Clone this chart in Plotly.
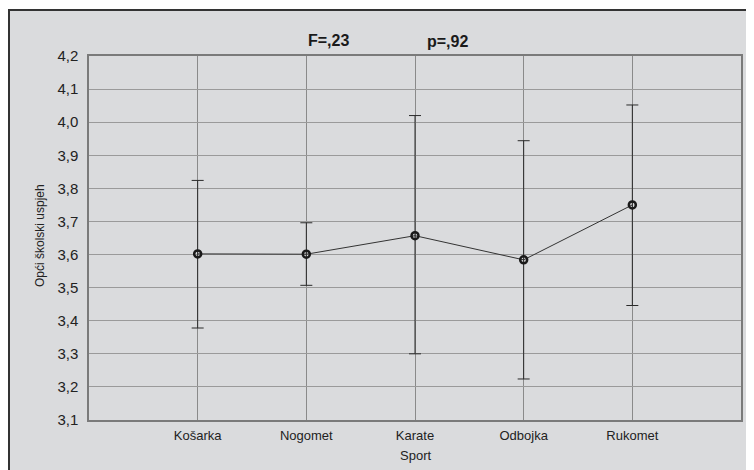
import plotly.graph_objects as go

sports = ["Košarka", "Nogomet", "Karate", "Odbojka", "Rukomet"]
means = [3.602, 3.601, 3.657, 3.584, 3.750]
upper = [3.824, 3.696, 4.020, 3.944, 4.052]
lower = [3.378, 3.507, 3.300, 3.224, 3.446]
y_ticks = [3.1, 3.2, 3.3, 3.4, 3.5, 3.6, 3.7, 3.8, 3.9, 4.0, 4.1, 4.2]

err_plus = [u - m for u, m in zip(upper, means)]
err_minus = [m - l for m, l in zip(means, lower)]

FONT = "Liberation Sans, Arial, sans-serif"
OFF = 8  # page body margin
W, H = 754 - OFF, 470 - OFF
L, R, T, B = 89 - OFF, 13, 56 - OFF, 50
pw, ph = W - L - R, H - T - B

def px(x):
    return (x - OFF - L) / pw

def py(y):
    return (H - B - (y - OFF)) / ph

fig = go.Figure()
fig.add_trace(go.Scatter(
    x=sports, y=means, mode="lines+markers",
    line=dict(color="#333333", width=1),
    marker=dict(symbol="circle-open", size=7, color="#1a1a1a", line=dict(width=2.5, color="#1a1a1a")),
    error_y=dict(type="data", symmetric=False, array=err_plus, arrayminus=err_minus,
                 color="#2a2a2a", thickness=1, width=6),
    showlegend=False, cliponaxis=False,
))

fig.update_layout(
    width=W, height=H,
    margin=dict(l=L, r=R, t=T, b=B),
    paper_bgcolor="white", plot_bgcolor="white",
    separators=",.",
    font=dict(family=FONT, color="#222222"),
    shapes=[dict(type="rect", xref="paper", yref="paper", layer="below",
                 x0=px(9), x1=px(780), y0=py(490), y1=py(10),
                 fillcolor="#dadbdd", line=dict(color="#333333", width=2))],
    annotations=[
        dict(text="<b>F=,23</b>", x=px(328), y=py(30), xref="paper", yref="paper",
             xanchor="center", showarrow=False, font=dict(size=16, family=FONT, color="#1a1a1a")),
        dict(text="<b>p=,92</b>", x=px(447), y=py(31), xref="paper", yref="paper",
             xanchor="center", showarrow=False, font=dict(size=16, family=FONT, color="#1a1a1a")),
        dict(text="Opći školski uspjeh", x=px(40), y=py(236), xref="paper", yref="paper",
             xanchor="center", yanchor="middle",
             showarrow=False, textangle=-90, font=dict(size=12, family=FONT, color="#222222")),
        dict(text="Sport", x=px(415), y=py(446), xref="paper", yref="paper",
             xanchor="center", yanchor="top", showarrow=False,
             font=dict(size=13, family=FONT, color="#222222")),
    ],
)
fig.update_xaxes(
    type="category", range=[-1, 5],
    showgrid=True, gridcolor="#8a8a8a", gridwidth=1,
    showline=True, mirror=True, linecolor="#7a7a7a", linewidth=1.5,
    ticks="", tickfont=dict(size=13, family=FONT, color="#222222"),
    ticklabelstandoff=3, zeroline=False, fixedrange=True,
)
fig.update_yaxes(
    range=[3.1, 4.2], tickvals=y_ticks, tickformat=".1f",
    showgrid=True, gridcolor="#9a9a9a", gridwidth=1,
    showline=True, mirror=True, linecolor="#7a7a7a", linewidth=1.5,
    ticks="", tickfont=dict(size=15, family=FONT, color="#222222"),
    ticklabelstandoff=6, zeroline=False, fixedrange=True,
)

fig.write_html("out.html")
